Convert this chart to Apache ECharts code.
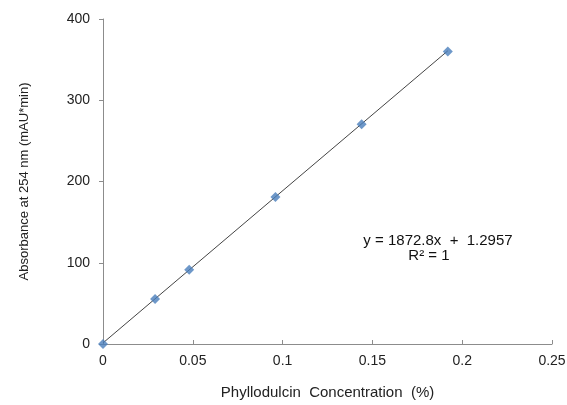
<!DOCTYPE html>
<html>
<head>
<meta charset="utf-8">
<script src="https://cdn.jsdelivr.net/npm/echarts@6/dist/echarts.min.js"></script>
<style>html,body{margin:0;padding:0;background:#fff}#c{width:567px;height:405px}</style>
</head>
<body>
<div id="c"></div>
<script>
var concentration = [0, 0.029, 0.048, 0.096, 0.144, 0.192];
var absorbance = [0, 55.5, 91.5, 181, 270.5, 360];
var xTicks = [0, 0.05, 0.1, 0.15, 0.2, 0.25];
var yTicks = [0, 100, 200, 300, 400];
var slope = 1872.8, intercept = 1.2957;
var equationLines = ['y = 1872.8x  +  1.2957', 'R² = 1'];

var points = concentration.map(function (x, i) { return [x, absorbance[i]]; });
var trendX = [concentration[0], concentration[concentration.length - 1]];
var trend = trendX.map(function (x) { return [x, slope * x + intercept]; });

var font = 'Liberation Sans, Arial, sans-serif';
var chart = echarts.init(document.getElementById('c'));
chart.setOption({
  animation: false,
  grid: { left: 103, right: 15, top: 19, bottom: 61, outerBoundsMode: 'none', containLabel: false },
  xAxis: {
    type: 'value', min: 0, max: 0.25, interval: 0.05,
    name: 'Phyllodulcin  Concentration  (%)', nameLocation: 'middle', nameGap: 41,
    nameTextStyle: { fontFamily: font, fontSize: 15, color: '#222' },
    axisLine: { lineStyle: { color: '#8c8c8c', width: 1 } },
    axisTick: { inside: true, length: 4, lineStyle: { color: '#8c8c8c' } },
    splitLine: { show: false },
    axisLabel: { fontFamily: font, fontSize: 14, color: '#222', margin: 10,
      formatter: function (v) { return String(+v.toFixed(2)); } }
  },
  yAxis: {
    type: 'value', min: 0, max: 400, interval: 100,
    name: 'Absorbance at 254 nm (mAU*min)', nameLocation: 'middle', nameGap: 72,
    nameTextStyle: { fontFamily: font, fontSize: 13, color: '#222' },
    axisLine: { show: true, lineStyle: { color: '#8c8c8c', width: 1 } },
    axisTick: { show: true, length: 4, lineStyle: { color: '#8c8c8c' } },
    splitLine: { show: false },
    axisLabel: { fontFamily: font, fontSize: 14, color: '#222', margin: 13 }
  },
  series: [
    {
      type: 'line', data: trend, symbol: 'none', silent: true,
      lineStyle: { color: '#444', width: 1 }, z: 2
    },
    {
      type: 'scatter', data: points, symbol: 'diamond', symbolSize: 10,
      itemStyle: { color: '#4a7ebb' }, z: 3
    }
  ],
  graphic: [
    { type: 'text', style: { x: 438, y: 241, text: equationLines[0], fontFamily: font, fontSize: 15, fill: '#111', align: 'center', verticalAlign: 'middle' } },
    { type: 'text', style: { x: 429, y: 256, text: equationLines[1], fontFamily: font, fontSize: 15, fill: '#111', align: 'center', verticalAlign: 'middle' } }
  ]
});
</script>
</body>
</html>
